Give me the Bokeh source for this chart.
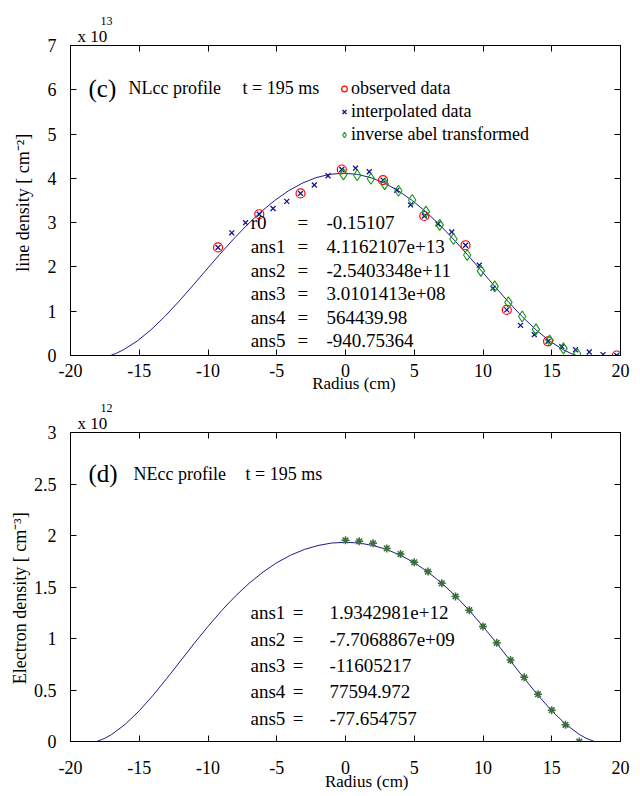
from bokeh.plotting import figure
from bokeh.models import Range1d, LinearAxis, Label, FixedTicker, Title
from bokeh.layouts import column
from bokeh.embed import file_html
from bokeh.resources import INLINE

FONT = "Liberation Serif"
NB = "\u00a0"

# ---------------- data ----------------
radius_ticks = [-20, -15, -10, -5, 0, 5, 10, 15, 20]
radius_tick_labels = ["-20", "-15", "-10", "-5", "0", "5", "10", "15", "20"]
nl_ticks = [0, 1, 2, 3, 4, 5, 6, 7]
nl_tick_labels = ["0", "1", "2", "3", "4", "5", "6", "7"]
ne_ticks = [0, 0.5, 1, 1.5, 2, 2.5, 3]
ne_tick_labels = ["0", "0.5", "1", "1.5", "2", "2.5", "3"]

# panel (c): line density, units of 1e13 cm^-2
obs_r = [-9.27, -6.27, -3.27, -0.27, 2.73, 5.73, 8.73, 11.73, 14.73, 19.73]
obs_nl = [2.44, 3.19, 3.66, 4.20, 3.96, 3.15, 2.49, 1.03, 0.32, 0.0]

interp_r = [-9.27, -8.27, -7.27, -6.27, -5.27, -4.27, -3.27, -2.27, -1.27, -0.27,
            0.73, 1.73, 2.73, 3.73, 4.73, 5.73, 6.73, 7.73, 8.73, 9.73,
            10.73, 11.73, 12.73, 13.73, 14.73, 15.73, 16.73, 17.73, 18.73, 19.73]
interp_nl = [2.44, 2.77, 3.00, 3.19, 3.32, 3.48, 3.66, 3.85, 4.06, 4.20,
             4.23, 4.15, 3.96, 3.73, 3.40, 3.15, 2.97, 2.79, 2.49, 2.04,
             1.52, 1.03, 0.68, 0.47, 0.32, 0.20, 0.13, 0.08, 0.02, 0.0]

abel_r = [-0.15, 0.85, 1.85, 2.85, 3.85, 4.85, 5.85, 6.85, 7.85, 8.85,
          9.85, 10.85, 11.85, 12.85, 13.85, 14.85, 15.85, 16.85]
abel_nl = [4.09, 4.07, 3.99, 3.87, 3.72, 3.51, 3.25, 2.95, 2.63, 2.27,
           1.91, 1.56, 1.20, 0.88, 0.59, 0.34, 0.16, 0.04]

fitc_r = [-20.0, -17.10, -16.65, -16.15, -15.15, -14.15, -13.15, -12.15, -11.15, -10.15,
          -9.15, -8.15, -7.15, -6.15, -5.15, -4.15, -3.15, -2.15, -1.15, -0.15,
          0.85, 1.85, 2.85, 3.85, 4.85, 5.85, 6.85, 7.85, 8.85, 9.85,
          10.85, 11.85, 12.85, 13.85, 14.85, 15.85, 16.35, 16.80, 20.0]
fitc_nl = [0.0, 0.0, 0.053, 0.129, 0.326, 0.580, 0.878, 1.210, 1.563, 1.924,
           2.282, 2.627, 2.950, 3.243, 3.501, 3.718, 3.890, 4.015, 4.091, 4.116,
           4.091, 4.015, 3.890, 3.718, 3.501, 3.243, 2.950, 2.627, 2.282, 1.924,
           1.563, 1.210, 0.878, 0.580, 0.326, 0.129, 0.053, 0.0, 0.0]

fitc_names = ["r0", "ans1", "ans2", "ans3", "ans4", "ans5"]
fitc_values = ["-0.15107", "4.1162107e+13", "-2.5403348e+11", "3.0101413e+08", "564439.98", "-940.75364"]

# panel (d): electron density, units of 1e12 cm^-3
ne_r = [0, 1, 2, 3, 4, 5, 6, 7, 8, 9, 10, 11, 12, 13, 14, 15, 16, 17]
ne_val = [1.953, 1.943, 1.924, 1.875, 1.820, 1.740, 1.650, 1.536, 1.408, 1.275,
          1.117, 0.958, 0.791, 0.623, 0.459, 0.304, 0.162, 0.0]

fitd_r = [-20, -18.1, -17.5, -17, -16, -15, -14, -13, -12, -11, -10, -9, -8, -7, -6, -5, -4, -3, -2, -1, 0,
          1, 2, 3, 4, 5, 6, 7, 8, 9, 10, 11, 12, 13, 14, 15, 16, 17, 17.5, 18.1, 20]
fitd_val = [0, 0, 0.031, 0.069, 0.169, 0.298, 0.448, 0.612, 0.782, 0.953, 1.117, 1.272, 1.413, 1.537,
            1.645, 1.736, 1.808, 1.864, 1.903, 1.927, 1.934,
            1.927, 1.903, 1.864, 1.808, 1.736, 1.645, 1.537, 1.413, 1.272, 1.117, 0.953, 0.782,
            0.612, 0.448, 0.298, 0.169, 0.069, 0.031, 0, 0]

fitd_names = ["ans1", "ans2", "ans3", "ans4", "ans5"]
fitd_values = ["1.9342981e+12", "-7.7068867e+09", "-11605217", "77594.972", "-77.654757"]

CURVE = "#1c1c8c"
RED = "#ff0000"
NAVY = "#12128a"
GREEN = "#109a10"
STAR = "#3d6e3d"


def add_text(p, x, y, text, size="18px", align="left", baseline="middle", color="black"):
    p.add_layout(Label(x=x, y=y, text=text, text_font=FONT, text_font_size=size,
                       text_align=align, text_baseline=baseline, text_color=color))


def style_axis(ax, ticks, labels, standoff, show=True):
    ax.ticker = FixedTicker(ticks=ticks)
    ax.major_tick_in = 6
    ax.major_tick_out = 0
    ax.minor_tick_line_color = None
    ax.axis_line_color = "black"
    ax.axis_line_width = 1
    ax.major_tick_line_color = "black"
    ax.major_label_text_font = FONT
    if show:
        ax.major_label_text_font_size = "18px"
        ax.major_label_text_color = "black"
        ax.major_label_standoff = standoff
        ax.major_label_overrides = {t: s for t, s in zip(ticks, labels)}
    else:
        ax.major_label_text_font_size = "1px"
        ax.major_label_text_color = None
        ax.major_label_standoff = 0


def make_fig(ymax, yticks, ylabels, height, btop, bbottom, xstand, ystand,
             xlab, xlab_stand, ylab, ylab_stand, exponent):
    p = figure(width=640, height=height, x_range=Range1d(-20, 20), y_range=Range1d(0, ymax),
               output_backend="svg", toolbar_location=None,
               min_border_left=70, min_border_right=20,
               min_border_top=btop, min_border_bottom=bbottom)
    p.title.visible = False
    p.xgrid.visible = False
    p.ygrid.visible = False
    p.outline_line_color = "black"
    p.background_fill_color = "white"
    p.border_fill_color = "white"
    style_axis(p.xaxis[0], radius_ticks, radius_tick_labels, xstand)
    style_axis(p.yaxis[0], yticks, ylabels, ystand)
    for ax in (p.xaxis[0], p.yaxis[0]):
        ax.axis_label_text_font = FONT
        ax.axis_label_text_font_style = "normal"
        ax.axis_label_text_color = "black"
    p.xaxis[0].axis_label = xlab
    p.xaxis[0].axis_label_text_font_size = "17px"
    p.xaxis[0].axis_label_standoff = xlab_stand
    p.yaxis[0].axis_label = ylab
    p.yaxis[0].axis_label_text_font_size = "18px"
    p.yaxis[0].axis_label_standoff = ylab_stand
    top = LinearAxis()
    style_axis(top, radius_ticks, None, 0, show=False)
    p.add_layout(top, "above")
    right = LinearAxis()
    style_axis(right, yticks, None, 0, show=False)
    p.add_layout(right, "right")
    p.add_layout(Title(text="x 10", align="left", offset=7, standoff=0, text_font=FONT,
                       text_font_size="17px", text_font_style="normal", text_color="black"), "above")
    p.add_layout(Title(text=exponent, align="left", offset=30, standoff=0, text_font=FONT,
                       text_font_size="12px", text_font_style="normal", text_color="black"), "above")
    return p


# ---------------- panel (c) ----------------
p1 = make_fig(7, nl_ticks, nl_tick_labels, 396, 45, 41, 8, 14,
              NB * 4 + "Radius (cm)", -6, "line density  [ cm\u207b\u00b2]", 12, "13")
p1.line(fitc_r, fitc_nl, line_color=CURVE, line_width=1)
p1.scatter(obs_r, obs_nl, marker="circle", size=9, fill_color=None, line_color=RED,
           line_width=1.2, legend_label="observed data")
p1.scatter(interp_r, interp_nl, marker="x", size=7, line_color=NAVY, line_width=1.3,
           legend_label="interpolated data")
p1.scatter(abel_r, abel_nl, marker="diamond", size=11, fill_color=None, line_color=GREEN,
           line_width=1.1, legend_label="inverse abel transformed")

lg = p1.legend[0]
lg.location = (267, 210)
lg.border_line_color = None
lg.background_fill_alpha = 0
lg.padding = 0
lg.margin = 0
lg.spacing = 2
lg.glyph_width = 14
lg.glyph_height = 21
lg.label_height = 21
lg.label_standoff = -10
lg.label_text_font = FONT
lg.label_text_font_size = "18px"
lg.label_text_color = "black"

add_text(p1, -18.69, 6.03, "(c)", size="25px", baseline="alphabetic")
add_text(p1, -15.78, 6.03, "NLcc profile", size="18px", baseline="alphabetic")
add_text(p1, -7.49, 6.03, "t = 195 ms", size="18px", baseline="alphabetic")

c_rows = [3.01, 2.46, 1.92, 1.39, 0.86, 0.33]
for name, val, yy in zip(fitc_names, fitc_values, c_rows):
    add_text(p1, -6.90, yy, name, size="19px")
    add_text(p1, -3.10, yy, "=", size="19px", align="center")
    add_text(p1, -1.38, yy, val, size="19px")

# ---------------- panel (d) ----------------
p2 = make_fig(3, ne_ticks, ne_tick_labels, 398, 36, 53, 19, 14,
              NB * 10 + "Radius (cm)", -5,
              "Electron density  [ cm\u207b\u00b3]" + NB * 4, 1, "12")
p2.line(fitd_r, fitd_val, line_color=CURVE, line_width=1)
p2.scatter(ne_r, ne_val, marker="asterisk", size=8, line_color=STAR, line_width=1.5)

add_text(p2, -18.69, 2.60, "(d)", size="25px", baseline="alphabetic")
add_text(p2, -15.42, 2.60, "NEcc profile", size="18px", baseline="alphabetic")
add_text(p2, -7.27, 2.60, "t = 195 ms", size="18px", baseline="alphabetic")

d_rows = [1.252, 0.994, 0.742, 0.484, 0.220]
for name, val, yy in zip(fitd_names, fitd_values, d_rows):
    add_text(p2, -6.91, yy, name, size="19px")
    add_text(p2, -3.44, yy, "=", size="19px", align="center")
    add_text(p2, -1.16, yy, val, size="19px")

layout = column(p1, p2, spacing=0)
open("out.html", "w").write(file_html(layout, INLINE))
